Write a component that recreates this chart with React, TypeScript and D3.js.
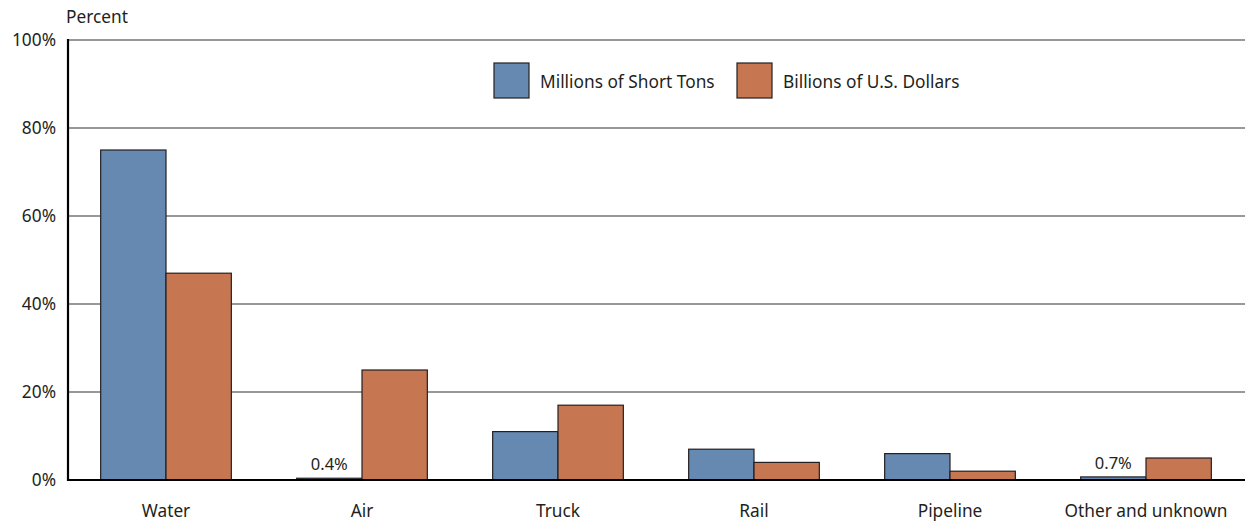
import React from "react";
import * as d3 from "d3";

const categories = ["Water", "Air", "Truck", "Rail", "Pipeline", "Other and unknown"];
const seriesNames = ["Millions of Short Tons", "Billions of U.S. Dollars"];
const tons = [75, 0.4, 11, 7, 6, 0.7];
const dollars = [47, 25, 17, 4, 2, 5];
const yTicks = [0, 20, 40, 60, 80, 100];
const smallLabels = [null, "0.4%", null, null, null, "0.7%"];
const colors = ["#6689b2", "#c67752"];

const W = 1245, H = 521;
const m = { left: 68, right: 1, top: 40, bottom: 41 };
const FONT = "'Noto Sans', 'Open Sans', sans-serif";
const FS = 17.3;

export default function App() {
  const x = d3.scaleBand<string>().domain(categories).range([m.left, W - m.right]).paddingInner(0).paddingOuter(0);
  const inner = d3.scaleBand<string>().domain(["0", "1"]).range([0, x.bandwidth()]).paddingOuter(0.5).paddingInner(0);
  const y = d3.scaleLinear().domain([0, 100]).range([H - m.bottom, m.top]);
  const series = [tons, dollars];
  return (
    <svg width={W} height={H} style={{ position: "absolute", left: 0, top: 0 }} fontFamily={FONT}>
      <rect width={W} height={H} fill="#fff" />
      <text x={66} y={23} fontSize={FS} fill="#231f20">Percent</text>
      {yTicks.map(t => (
        <g key={t}>
          {t > 0 && <line x1={m.left} x2={W} y1={y(t)} y2={y(t)} stroke="#333" strokeWidth={1.2} />}
          <text x={56} y={y(t) + 6} fontSize={FS} textAnchor="end" fill="#231f20">{t}%</text>
        </g>
      ))}
      {categories.map((c, i) => (
        <g key={c}>
          {series.map((s, j) => {
            const x0 = (x(c) as number) + (inner(String(j)) as number);
            return (
              <rect key={j} x={x0} y={y(s[i])} width={inner.bandwidth()} height={y(0) - y(s[i])}
                fill={colors[j]} stroke="#231f20" strokeWidth={1.2} />
            );
          })}
          {smallLabels[i] && (
            <text x={(x(c) as number) + (inner("0") as number) + inner.bandwidth() / 2} y={y(tons[i]) - 8}
              fontSize={16.5} textAnchor="middle" fill="#231f20">{smallLabels[i]}</text>
          )}
          <text x={(x(c) as number) + x.bandwidth() / 2} y={517} fontSize={FS} textAnchor="middle" fill="#231f20">{c}</text>
        </g>
      ))}
      <line x1={m.left} x2={m.left} y1={m.top - 1} y2={y(0) + 1} stroke="#000" strokeWidth={2.2} />
      <line x1={m.left - 1} x2={W} y1={y(0)} y2={y(0)} stroke="#000" strokeWidth={2.2} />
      {seriesNames.map((n, j) => {
        const lx = [494, 737][j];
        return (
          <g key={n}>
            <rect x={lx} y={63} width={35} height={35} fill={colors[j]} stroke="#231f20" strokeWidth={1.2} />
            <text x={lx + 46} y={88} fontSize={FS} fill="#231f20">{n}</text>
          </g>
        );
      })}
    </svg>
  );
}
